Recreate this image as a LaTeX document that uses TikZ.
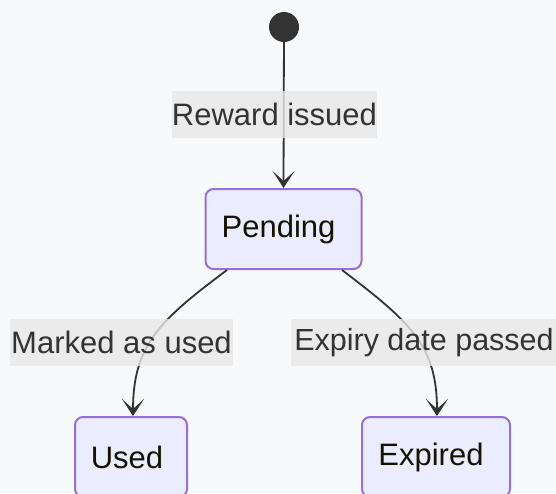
\documentclass[tikz,border=0pt]{standalone}
\usepackage{fontspec}
\setmainfont{Liberation Sans}
\usetikzlibrary{arrows.meta,calc}
\definecolor{bgc}{HTML}{F8F9FA}
\definecolor{nodefill}{HTML}{ECECFF}
\definecolor{nodeborder}{HTML}{9370DB}
\definecolor{edgec}{HTML}{333333}
\definecolor{lblbg}{HTML}{E8E8E8}
\definecolor{nodetext}{HTML}{131300}
\tikzset{
  state/.style={draw=nodeborder, fill=nodefill, line width=2pt, rounded corners=8pt,
    minimum height=80pt, inner sep=0pt, text=nodetext, font=\fontsize{31}{36}\selectfont},
  edge/.style={draw=edgec, line width=1.8pt, -{Stealth[length=17pt,width=22pt,inset=10pt]}},
  lbl/.style={fill=lblbg, fill opacity=0.8, text opacity=1, text=edgec, inner sep=0pt,
    minimum height=47pt, font=\fontsize{31}{36}\selectfont},
  startdot/.style={circle, fill=edgec, minimum size=30pt, inner sep=0pt}
}
\begin{document}
\begin{tikzpicture}[x=1pt,y=-1pt]
\fill[bgc] (0,0) rectangle (556,493);
\useasboundingbox (0,0) rectangle (556,493);
\begin{scope}
\clip (0,0) rectangle (556,493);
\node[startdot] (start) at (284,27) {};
\node[state, minimum width=156pt] (pend) at (283.5,229) {Pending\hspace*{10pt}};
\node[state, minimum width=112pt] (used) at (131,457) {Used\hspace*{8pt}};
\node[state, minimum width=148pt] (expd) at (436,457) {Expired\hspace*{10pt}};
\draw[edge] (start) -- (pend.north);
\draw[edge] (pend.216.8) .. controls (160,320) and (133,345) .. ($(used.north)+(2,0)$);
\draw[edge] (pend.-35.8) .. controls (410,322) and (437,345) .. ($(expd.north)+(1,0)$);
\node[lbl, minimum width=203pt] (l1) at (274.5,114) {Reward issued};
\node[lbl, minimum width=223pt] (l2) at (121.5,342.5) {Marked as used};
\node[lbl, minimum width=266pt, font=\fontsize{30.5}{36}\selectfont] (l3) at (424,342.5) {Expiry date passed};
\end{scope}
\end{tikzpicture}
\end{document}
